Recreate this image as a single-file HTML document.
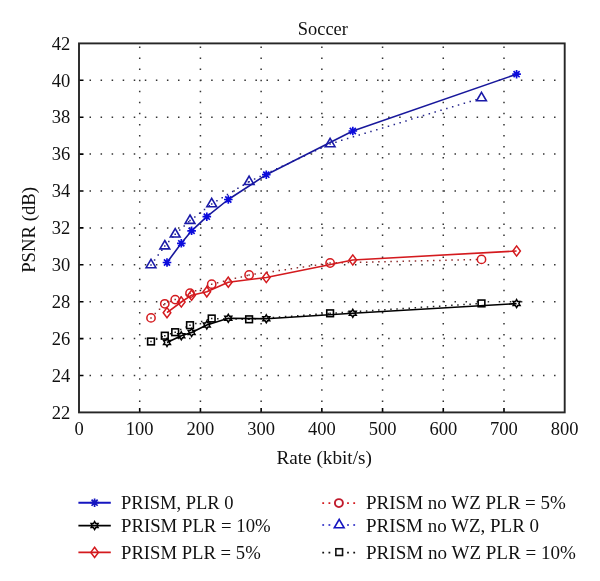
<!DOCTYPE html>
<html><head><meta charset="utf-8"><style>
html,body{margin:0;padding:0;background:#fff;width:600px;height:581px;overflow:hidden}
svg{display:block;will-change:transform}
</style></head><body><svg width="600" height="581" viewBox="0 0 600 581"><path d="M139.71 412.40L139.71 43.40M200.43 412.40L200.43 43.40M261.14 412.40L261.14 43.40M321.85 412.40L321.85 43.40M382.56 412.40L382.56 43.40M443.27 412.40L443.27 43.40M503.99 412.40L503.99 43.40M79.00 375.50L564.70 375.50M79.00 338.60L564.70 338.60M79.00 301.70L564.70 301.70M79.00 264.80L564.70 264.80M79.00 227.90L564.70 227.90M79.00 191.00L564.70 191.00M79.00 154.10L564.70 154.10M79.00 117.20L564.70 117.20M79.00 80.30L564.70 80.30" stroke="#333" stroke-width="1.5" stroke-dasharray="1.5 9.56" stroke-dashoffset="0.55" fill="none"/><path d="M139.71 412.40L139.71 407.90M200.43 412.40L200.43 407.90M261.14 412.40L261.14 407.90M321.85 412.40L321.85 407.90M382.56 412.40L382.56 407.90M443.27 412.40L443.27 407.90M503.99 412.40L503.99 407.90M79.00 375.50L83.50 375.50M79.00 338.60L83.50 338.60M79.00 301.70L83.50 301.70M79.00 264.80L83.50 264.80M79.00 227.90L83.50 227.90M79.00 191.00L83.50 191.00M79.00 154.10L83.50 154.10M79.00 117.20L83.50 117.20M79.00 80.30L83.50 80.30" stroke="#000" stroke-width="1.6" fill="none"/><path d="M151.00 341.50L164.80 335.70" stroke="#222" stroke-width="1.5" stroke-dasharray="0 6.1" stroke-linecap="square" fill="none"/><path d="M164.80 335.70L175.20 332.20" stroke="#222" stroke-width="1.5" stroke-dasharray="0 6.1" stroke-linecap="square" fill="none"/><path d="M175.20 332.20L190.00 325.20" stroke="#222" stroke-width="1.5" stroke-dasharray="0 6.1" stroke-linecap="square" fill="none"/><path d="M190.00 325.20L211.70 318.50" stroke="#222" stroke-width="1.5" stroke-dasharray="0 6.1" stroke-linecap="square" fill="none"/><path d="M211.70 318.50L249.10 319.30" stroke="#222" stroke-width="1.5" stroke-dasharray="0 6.1" stroke-linecap="square" fill="none"/><path d="M249.10 319.30L330.10 313.30" stroke="#222" stroke-width="1.5" stroke-dasharray="0 6.1" stroke-linecap="square" fill="none"/><path d="M330.10 313.30L481.50 303.40" stroke="#222" stroke-width="1.5" stroke-dasharray="0 6.1" stroke-linecap="square" fill="none"/><polyline points="167.0,342.5 181.3,335.8 191.6,332.5 206.8,325.0 228.3,318.3 266.3,318.8 352.8,313.3 516.6,303.6" fill="none" stroke="#000000" stroke-width="1.6" stroke-linejoin="round"/><path d="M151.00 317.90L164.80 303.80" stroke="#903030" stroke-width="1.5" stroke-dasharray="0 6.1" stroke-linecap="square" fill="none"/><path d="M164.80 303.80L175.20 299.60" stroke="#903030" stroke-width="1.5" stroke-dasharray="0 6.1" stroke-linecap="square" fill="none"/><path d="M175.20 299.60L190.00 293.20" stroke="#903030" stroke-width="1.5" stroke-dasharray="0 6.1" stroke-linecap="square" fill="none"/><path d="M190.00 293.20L211.70 284.20" stroke="#903030" stroke-width="1.5" stroke-dasharray="0 6.1" stroke-linecap="square" fill="none"/><path d="M211.70 284.20L249.10 275.00" stroke="#903030" stroke-width="1.5" stroke-dasharray="0 6.1" stroke-linecap="square" fill="none"/><path d="M249.10 275.00L330.10 263.00" stroke="#903030" stroke-width="1.5" stroke-dasharray="0 6.1" stroke-linecap="square" fill="none"/><path d="M330.10 263.00L481.50 259.40" stroke="#903030" stroke-width="1.5" stroke-dasharray="0 6.1" stroke-linecap="square" fill="none"/><polyline points="167.0,312.7 181.3,302.0 191.6,295.2 206.8,291.8 228.3,282.2 266.3,277.5 352.8,260.0 516.6,251.0" fill="none" stroke="#d41a1e" stroke-width="1.6" stroke-linejoin="round"/><path d="M151.00 264.90L164.80 246.10" stroke="#25258c" stroke-width="1.5" stroke-dasharray="0 6.1" stroke-linecap="square" fill="none"/><path d="M164.80 246.10L175.20 234.20" stroke="#25258c" stroke-width="1.5" stroke-dasharray="0 6.1" stroke-linecap="square" fill="none"/><path d="M175.20 234.20L190.00 220.60" stroke="#25258c" stroke-width="1.5" stroke-dasharray="0 6.1" stroke-linecap="square" fill="none"/><path d="M190.00 220.60L211.70 203.90" stroke="#25258c" stroke-width="1.5" stroke-dasharray="0 6.1" stroke-linecap="square" fill="none"/><path d="M211.70 203.90L249.10 181.70" stroke="#25258c" stroke-width="1.5" stroke-dasharray="0 6.1" stroke-linecap="square" fill="none"/><path d="M249.10 181.70L330.10 143.90" stroke="#25258c" stroke-width="1.5" stroke-dasharray="0 6.1" stroke-linecap="square" fill="none"/><path d="M330.10 143.90L481.50 98.00" stroke="#25258c" stroke-width="1.5" stroke-dasharray="0 6.1" stroke-linecap="square" fill="none"/><polyline points="167.0,262.5 181.3,243.3 191.6,230.8 206.8,216.7 228.3,199.5 266.3,174.7 352.8,131.0 516.6,74.2" fill="none" stroke="#18189c" stroke-width="1.6" stroke-linejoin="round"/><rect x="147.65" y="338.15" width="6.7" height="6.7" stroke="#000000" stroke-width="1.6" fill="none"/><rect x="161.45" y="332.35" width="6.7" height="6.7" stroke="#000000" stroke-width="1.6" fill="none"/><rect x="171.85" y="328.85" width="6.7" height="6.7" stroke="#000000" stroke-width="1.6" fill="none"/><rect x="186.65" y="321.85" width="6.7" height="6.7" stroke="#000000" stroke-width="1.6" fill="none"/><rect x="208.35" y="315.15" width="6.7" height="6.7" stroke="#000000" stroke-width="1.6" fill="none"/><rect x="245.75" y="315.95" width="6.7" height="6.7" stroke="#000000" stroke-width="1.6" fill="none"/><rect x="326.75" y="309.95" width="6.7" height="6.7" stroke="#000000" stroke-width="1.6" fill="none"/><rect x="478.15" y="300.05" width="6.7" height="6.7" stroke="#000000" stroke-width="1.6" fill="none"/><path d="M167.00 338.50L168.15 340.50L170.46 340.50L169.31 342.50L170.46 344.50L168.15 344.50L167.00 346.50L165.85 344.50L163.54 344.50L164.69 342.50L163.54 340.50L165.85 340.50Z" stroke="#000000" stroke-width="1.5" fill="none" stroke-linejoin="miter"/><path d="M181.30 331.80L182.45 333.80L184.76 333.80L183.61 335.80L184.76 337.80L182.45 337.80L181.30 339.80L180.15 337.80L177.84 337.80L178.99 335.80L177.84 333.80L180.15 333.80Z" stroke="#000000" stroke-width="1.5" fill="none" stroke-linejoin="miter"/><path d="M191.60 328.50L192.75 330.50L195.06 330.50L193.91 332.50L195.06 334.50L192.75 334.50L191.60 336.50L190.45 334.50L188.14 334.50L189.29 332.50L188.14 330.50L190.45 330.50Z" stroke="#000000" stroke-width="1.5" fill="none" stroke-linejoin="miter"/><path d="M206.80 321.00L207.95 323.00L210.26 323.00L209.11 325.00L210.26 327.00L207.95 327.00L206.80 329.00L205.65 327.00L203.34 327.00L204.49 325.00L203.34 323.00L205.65 323.00Z" stroke="#000000" stroke-width="1.5" fill="none" stroke-linejoin="miter"/><path d="M228.30 314.30L229.45 316.30L231.76 316.30L230.61 318.30L231.76 320.30L229.45 320.30L228.30 322.30L227.15 320.30L224.84 320.30L225.99 318.30L224.84 316.30L227.15 316.30Z" stroke="#000000" stroke-width="1.5" fill="none" stroke-linejoin="miter"/><path d="M266.30 314.80L267.45 316.80L269.76 316.80L268.61 318.80L269.76 320.80L267.45 320.80L266.30 322.80L265.15 320.80L262.84 320.80L263.99 318.80L262.84 316.80L265.15 316.80Z" stroke="#000000" stroke-width="1.5" fill="none" stroke-linejoin="miter"/><path d="M352.80 309.30L353.95 311.30L356.26 311.30L355.11 313.30L356.26 315.30L353.95 315.30L352.80 317.30L351.65 315.30L349.34 315.30L350.49 313.30L349.34 311.30L351.65 311.30Z" stroke="#000000" stroke-width="1.5" fill="none" stroke-linejoin="miter"/><path d="M516.60 299.60L517.75 301.60L520.06 301.60L518.91 303.60L520.06 305.60L517.75 305.60L516.60 307.60L515.45 305.60L513.14 305.60L514.29 303.60L513.14 301.60L515.45 301.60Z" stroke="#000000" stroke-width="1.5" fill="none" stroke-linejoin="miter"/><circle cx="151.00" cy="317.90" r="4.15" stroke="#d41a1e" stroke-width="1.5" fill="none"/><circle cx="164.80" cy="303.80" r="4.15" stroke="#d41a1e" stroke-width="1.5" fill="none"/><circle cx="175.20" cy="299.60" r="4.15" stroke="#d41a1e" stroke-width="1.5" fill="none"/><circle cx="190.00" cy="293.20" r="4.15" stroke="#d41a1e" stroke-width="1.5" fill="none"/><circle cx="211.70" cy="284.20" r="4.15" stroke="#d41a1e" stroke-width="1.5" fill="none"/><circle cx="249.10" cy="275.00" r="4.15" stroke="#d41a1e" stroke-width="1.5" fill="none"/><circle cx="330.10" cy="263.00" r="4.15" stroke="#d41a1e" stroke-width="1.5" fill="none"/><circle cx="481.50" cy="259.40" r="4.15" stroke="#d41a1e" stroke-width="1.5" fill="none"/><path d="M167.00 307.60L170.80 312.70L167.00 317.80L163.20 312.70Z" stroke="#d41a1e" stroke-width="1.5" fill="none"/><path d="M181.30 296.90L185.10 302.00L181.30 307.10L177.50 302.00Z" stroke="#d41a1e" stroke-width="1.5" fill="none"/><path d="M191.60 290.10L195.40 295.20L191.60 300.30L187.80 295.20Z" stroke="#d41a1e" stroke-width="1.5" fill="none"/><path d="M206.80 286.70L210.60 291.80L206.80 296.90L203.00 291.80Z" stroke="#d41a1e" stroke-width="1.5" fill="none"/><path d="M228.30 277.10L232.10 282.20L228.30 287.30L224.50 282.20Z" stroke="#d41a1e" stroke-width="1.5" fill="none"/><path d="M266.30 272.40L270.10 277.50L266.30 282.60L262.50 277.50Z" stroke="#d41a1e" stroke-width="1.5" fill="none"/><path d="M352.80 254.90L356.60 260.00L352.80 265.10L349.00 260.00Z" stroke="#d41a1e" stroke-width="1.5" fill="none"/><path d="M516.60 245.90L520.40 251.00L516.60 256.10L512.80 251.00Z" stroke="#d41a1e" stroke-width="1.5" fill="none"/><path d="M151.00 259.30L155.90 267.70L146.10 267.70Z" stroke="#1a1aa8" stroke-width="1.6" fill="none" stroke-linejoin="miter"/><path d="M164.80 240.50L169.70 248.90L159.90 248.90Z" stroke="#1a1aa8" stroke-width="1.6" fill="none" stroke-linejoin="miter"/><path d="M175.20 228.60L180.10 237.00L170.30 237.00Z" stroke="#1a1aa8" stroke-width="1.6" fill="none" stroke-linejoin="miter"/><path d="M190.00 215.00L194.90 223.40L185.10 223.40Z" stroke="#1a1aa8" stroke-width="1.6" fill="none" stroke-linejoin="miter"/><path d="M211.70 198.30L216.60 206.70L206.80 206.70Z" stroke="#1a1aa8" stroke-width="1.6" fill="none" stroke-linejoin="miter"/><path d="M249.10 176.10L254.00 184.50L244.20 184.50Z" stroke="#1a1aa8" stroke-width="1.6" fill="none" stroke-linejoin="miter"/><path d="M330.10 138.30L335.00 146.70L325.20 146.70Z" stroke="#1a1aa8" stroke-width="1.6" fill="none" stroke-linejoin="miter"/><path d="M481.50 92.40L486.40 100.80L476.60 100.80Z" stroke="#1a1aa8" stroke-width="1.6" fill="none" stroke-linejoin="miter"/><path d="M162.70 262.50L171.30 262.50M163.96 259.46L170.04 265.54M167.00 258.20L167.00 266.80M170.04 259.46L163.96 265.54" stroke="#0c0cdc" stroke-width="1.7" fill="none"/><path d="M177.00 243.30L185.60 243.30M178.26 240.26L184.34 246.34M181.30 239.00L181.30 247.60M184.34 240.26L178.26 246.34" stroke="#0c0cdc" stroke-width="1.7" fill="none"/><path d="M187.30 230.80L195.90 230.80M188.56 227.76L194.64 233.84M191.60 226.50L191.60 235.10M194.64 227.76L188.56 233.84" stroke="#0c0cdc" stroke-width="1.7" fill="none"/><path d="M202.50 216.70L211.10 216.70M203.76 213.66L209.84 219.74M206.80 212.40L206.80 221.00M209.84 213.66L203.76 219.74" stroke="#0c0cdc" stroke-width="1.7" fill="none"/><path d="M224.00 199.50L232.60 199.50M225.26 196.46L231.34 202.54M228.30 195.20L228.30 203.80M231.34 196.46L225.26 202.54" stroke="#0c0cdc" stroke-width="1.7" fill="none"/><path d="M262.00 174.70L270.60 174.70M263.26 171.66L269.34 177.74M266.30 170.40L266.30 179.00M269.34 171.66L263.26 177.74" stroke="#0c0cdc" stroke-width="1.7" fill="none"/><path d="M348.50 131.00L357.10 131.00M349.76 127.96L355.84 134.04M352.80 126.70L352.80 135.30M355.84 127.96L349.76 134.04" stroke="#0c0cdc" stroke-width="1.7" fill="none"/><path d="M512.30 74.20L520.90 74.20M513.56 71.16L519.64 77.24M516.60 69.90L516.60 78.50M519.64 71.16L513.56 77.24" stroke="#0c0cdc" stroke-width="1.7" fill="none"/><rect x="79.0" y="43.4" width="485.70" height="369.00" fill="none" stroke="#262626" stroke-width="1.9"/><g font-family="Liberation Serif" font-size="18.5" fill="#111"><text x="79.00" y="434.6" text-anchor="middle">0</text><text x="139.71" y="434.6" text-anchor="middle">100</text><text x="200.43" y="434.6" text-anchor="middle">200</text><text x="261.14" y="434.6" text-anchor="middle">300</text><text x="321.85" y="434.6" text-anchor="middle">400</text><text x="382.56" y="434.6" text-anchor="middle">500</text><text x="443.27" y="434.6" text-anchor="middle">600</text><text x="503.99" y="434.6" text-anchor="middle">700</text><text x="564.70" y="434.6" text-anchor="middle">800</text><text x="70.2" y="418.60" text-anchor="end">22</text><text x="70.2" y="381.70" text-anchor="end">24</text><text x="70.2" y="344.80" text-anchor="end">26</text><text x="70.2" y="307.90" text-anchor="end">28</text><text x="70.2" y="271.00" text-anchor="end">30</text><text x="70.2" y="234.10" text-anchor="end">32</text><text x="70.2" y="197.20" text-anchor="end">34</text><text x="70.2" y="160.30" text-anchor="end">36</text><text x="70.2" y="123.40" text-anchor="end">38</text><text x="70.2" y="86.50" text-anchor="end">40</text><text x="70.2" y="49.60" text-anchor="end">42</text></g><text x="297.8" y="35" textLength="50.1" lengthAdjust="spacingAndGlyphs" font-family="Liberation Serif" font-size="18.2" fill="#111">Soccer</text><text x="276.4" y="464.3" textLength="95.5" lengthAdjust="spacingAndGlyphs" font-family="Liberation Serif" font-size="18" fill="#111">Rate (kbit/s)</text><text transform="translate(35.3 229.9) rotate(-90)" text-anchor="middle" textLength="85.9" lengthAdjust="spacingAndGlyphs" font-family="Liberation Serif" font-size="18" fill="#111">PSNR (dB)</text><path d="M78.4 502.7L110.8 502.7" stroke="#1515c0" stroke-width="1.9"/><path d="M90.30 502.70L98.90 502.70M91.56 499.66L97.64 505.74M94.60 498.40L94.60 507.00M97.64 499.66L91.56 505.74" stroke="#1515c0" stroke-width="1.7" fill="none"/><text x="121" y="509.2" textLength="112.6" lengthAdjust="spacingAndGlyphs" font-family="Liberation Serif" font-size="18.5" fill="#111">PRISM, PLR 0</text><path d="M78.4 525.6L110.8 525.6" stroke="#000000" stroke-width="1.6"/><path d="M94.60 521.60L95.75 523.60L98.06 523.60L96.91 525.60L98.06 527.60L95.75 527.60L94.60 529.60L93.45 527.60L91.14 527.60L92.29 525.60L91.14 523.60L93.45 523.60Z" stroke="#000000" stroke-width="1.5" fill="none" stroke-linejoin="miter"/><text x="121" y="532" textLength="149.7" lengthAdjust="spacingAndGlyphs" font-family="Liberation Serif" font-size="18.5" fill="#111">PRISM PLR = 10%</text><path d="M78.4 552.4L110.8 552.4" stroke="#d41a1e" stroke-width="1.6"/><path d="M94.60 547.30L98.40 552.40L94.60 557.50L90.80 552.40Z" stroke="#d41a1e" stroke-width="1.5" fill="none"/><text x="121" y="558.8" textLength="139.7" lengthAdjust="spacingAndGlyphs" font-family="Liberation Serif" font-size="18.5" fill="#111">PRISM PLR = 5%</text><path d="M322.3 503.1h1.8M328.5 503.1h1.8M347.1 503.1h1.8M353.3 503.1h1.8" stroke="#d41a1e" stroke-width="1.7"/><circle cx="338.90" cy="503.10" r="4.0" stroke="#c01a2c" stroke-width="1.9" fill="none"/><text x="366" y="509.2" textLength="199.9" lengthAdjust="spacingAndGlyphs" font-family="Liberation Serif" font-size="18.5" fill="#111">PRISM no WZ PLR = 5%</text><path d="M322.3 525.0h1.8M328.5 525.0h1.8M347.1 525.0h1.8M353.3 525.0h1.8" stroke="#1515c0" stroke-width="1.7"/><path d="M339.20 519.40L344.10 527.80L334.30 527.80Z" stroke="#1515c0" stroke-width="1.6" fill="none" stroke-linejoin="miter"/><text x="366" y="532" textLength="173.1" lengthAdjust="spacingAndGlyphs" font-family="Liberation Serif" font-size="18.5" fill="#111">PRISM no WZ, PLR 0</text><path d="M322.3 552.7h1.8M328.5 552.7h1.8M347.1 552.7h1.8M353.3 552.7h1.8" stroke="#111" stroke-width="1.7"/><rect x="335.85" y="548.75" width="6.7" height="6.7" stroke="#111" stroke-width="1.6" fill="none"/><text x="366" y="558.8" textLength="209.9" lengthAdjust="spacingAndGlyphs" font-family="Liberation Serif" font-size="18.5" fill="#111">PRISM no WZ PLR = 10%</text></svg></body></html>
